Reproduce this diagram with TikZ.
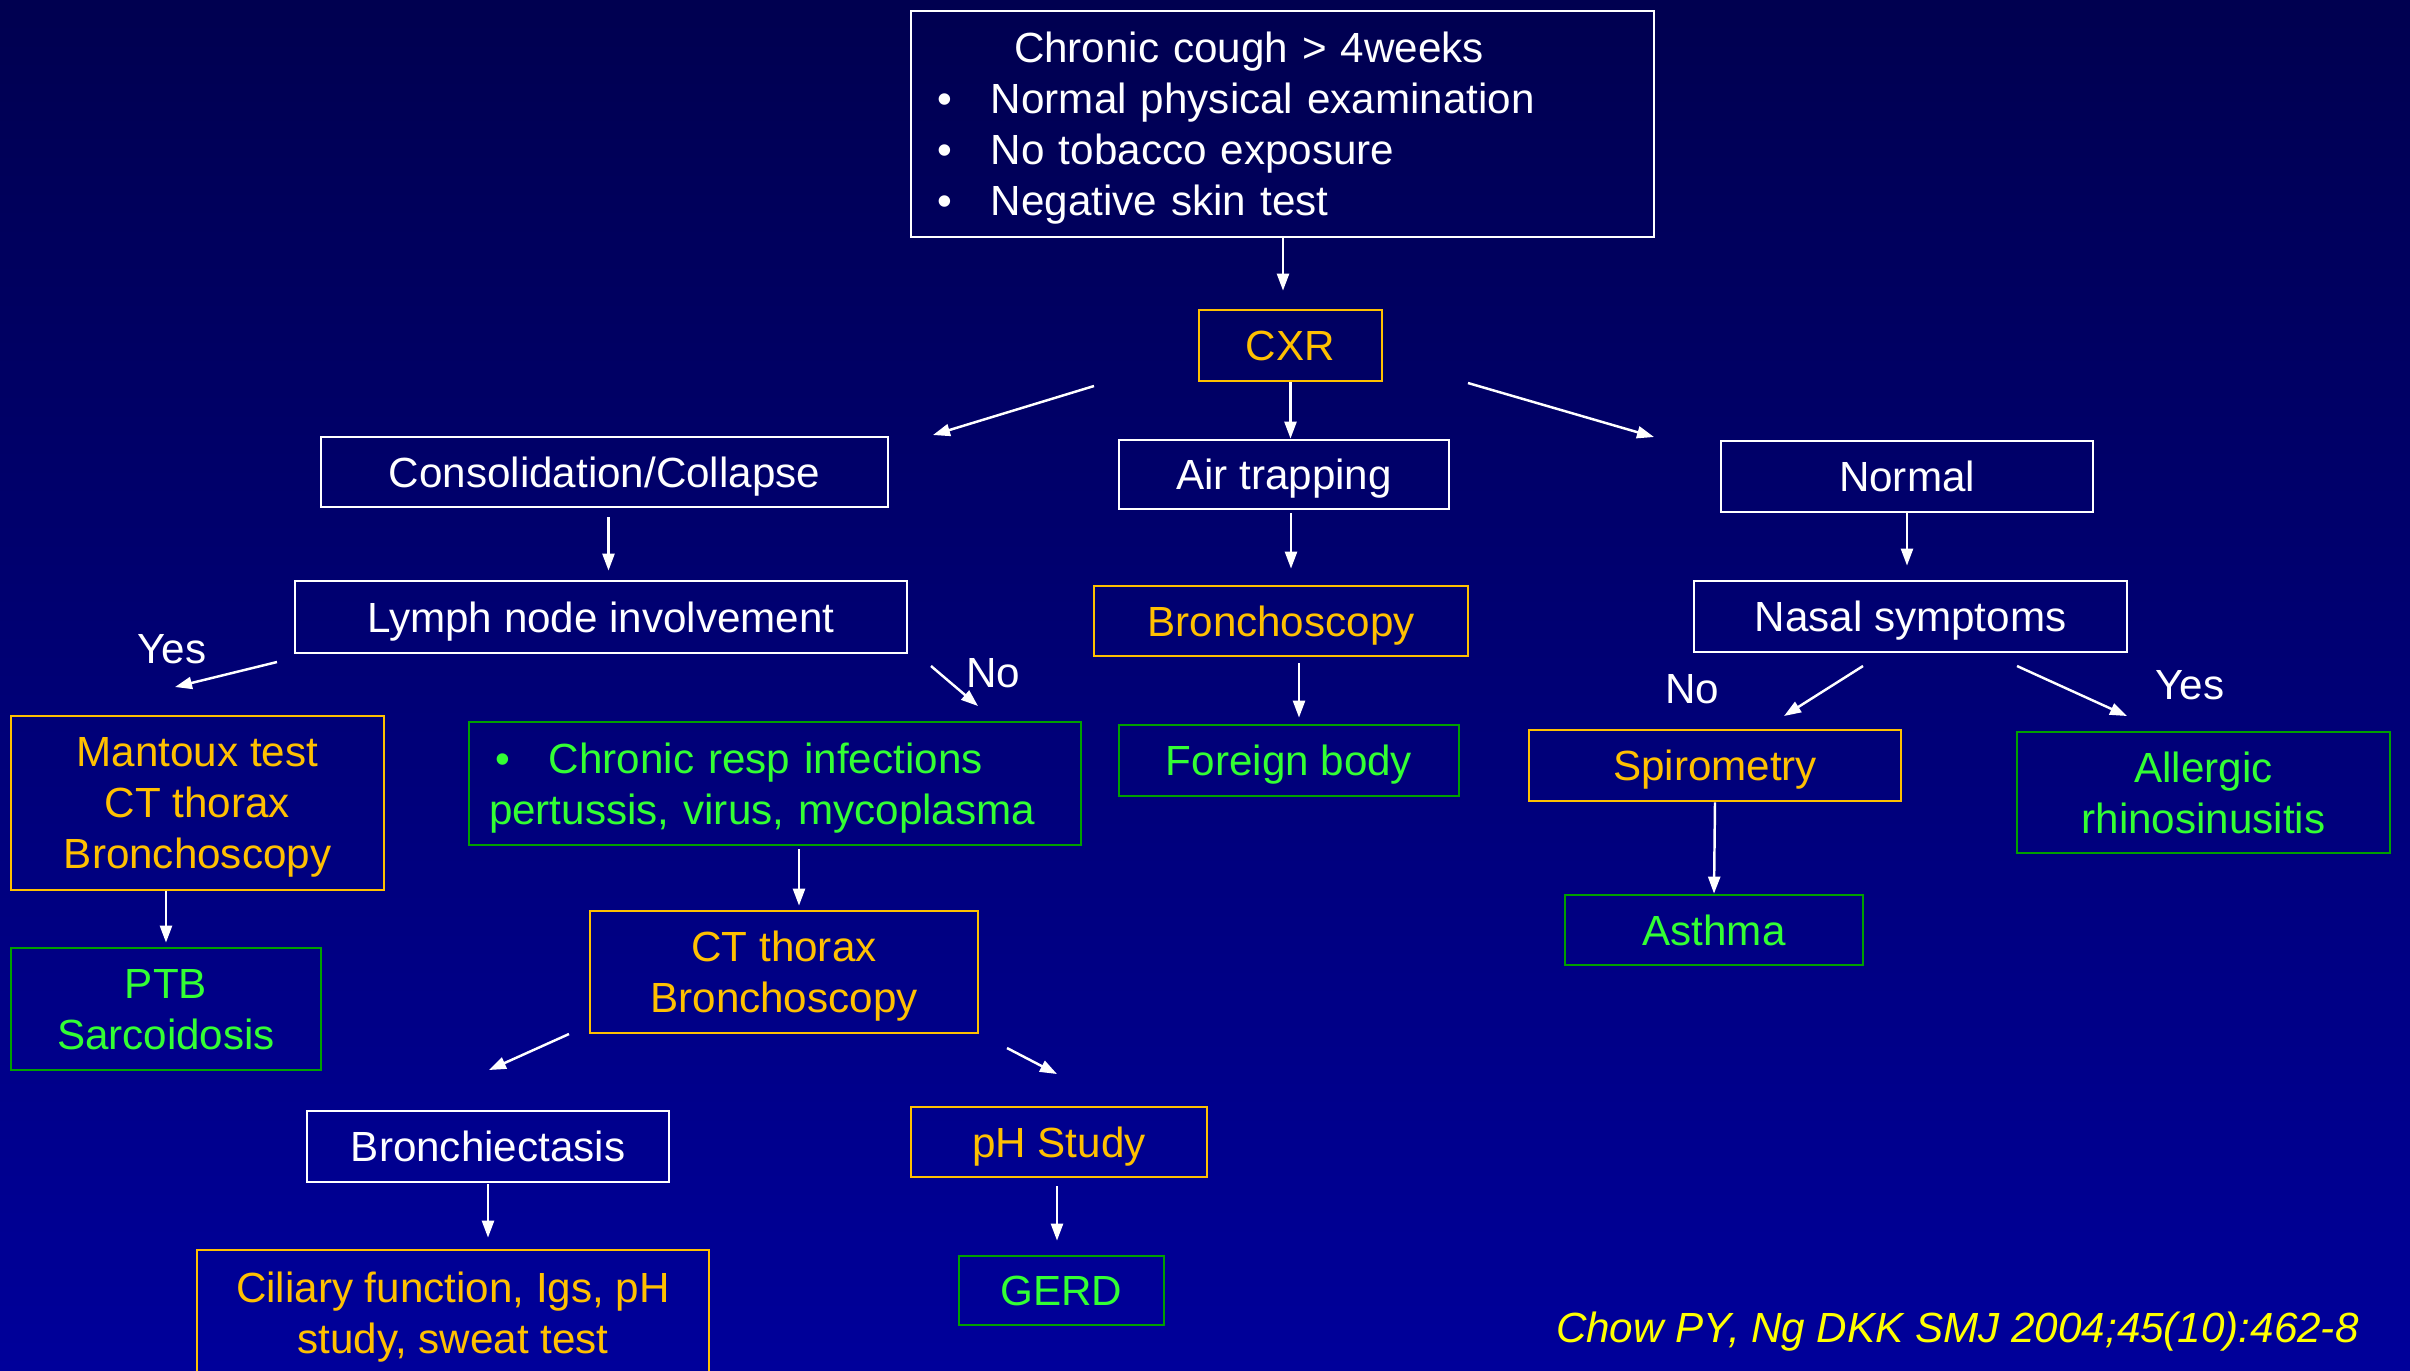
\documentclass[tikz,border=0pt]{standalone}
\usepackage{fontspec}
\setmainfont{Liberation Sans}
\usepackage{tikz}
\usetikzlibrary{arrows.meta}
\definecolor{bgtop}{RGB}{0,0,80}
\definecolor{bgbottom}{RGB}{0,0,154}
\definecolor{testorange}{RGB}{255,192,0}
\definecolor{dxgreen}{RGB}{51,255,51}
\definecolor{dxline}{RGB}{0,160,0}
\definecolor{citeyellow}{RGB}{255,255,0}
\tikzset{
    box/.style={
            draw=white, text=white, line width=0.8pt,
            inner sep=0pt, align=center, text depth=0pt
        },
    testbox/.style={box, draw=testorange, text=testorange},
    dxbox/.style={box, draw=dxline, text=dxgreen},
    flow/.style={
            white, line width=0.7pt,
            -{Triangle[length=0.17cm, width=0.12cm]}
        },
    answer/.style={text=white}
}

\begin{document}
\begin{tikzpicture}[font=\fontsize{12pt}{14.5pt}\selectfont]
        \useasboundingbox (0,0) rectangle (24.10,-13.70);
        \clip (0,0) rectangle (24.10,-13.70);
        \fill[top color=bgtop, bottom color=bgbottom] (0,0) rectangle (24.10,-13.70);

        \node[box, minimum width=7.43cm, minimum height=2.26cm, text width=6.91cm, inner xsep=0.26cm, align=left, text depth=43.5pt] (cough) at (12.825,-1.24)
        {\hspace*{0.77cm}Chronic cough > 4weeks\\
            \makebox[0.54cm][l]{\textbullet}Normal physical examination\\
            \makebox[0.54cm][l]{\textbullet}No tobacco exposure\\
            \makebox[0.54cm][l]{\textbullet}Negative skin test};
        \node[testbox, minimum width=1.83cm, minimum height=0.71cm] (cxr) at (12.905,-3.455) {CXR};

        \node[box, minimum width=5.67cm, minimum height=0.70cm] (consol) at (6.045,-4.72) {Consolidation/Collapse};
        \node[box, minimum width=3.30cm, minimum height=0.69cm] (air) at (12.84,-4.745) {Air trapping};
        \node[box, minimum width=3.72cm, minimum height=0.71cm] (normal) at (19.07,-4.765) {Normal};

        \node[box, minimum width=6.12cm, minimum height=0.72cm] (lymph) at (6.01,-6.17) {Lymph node involvement};
        \node[testbox, minimum width=3.74cm, minimum height=0.70cm] (bronch) at (12.81,-6.21) {Bronchoscopy};
        \node[box, minimum width=4.33cm, minimum height=0.71cm] (nasal) at (19.105,-6.165) {Nasal symptoms};

        \node[testbox, minimum width=3.73cm, minimum height=1.74cm] (mantoux) at (1.975,-8.03) {Mantoux test\\CT thorax\\Bronchoscopy};
        \node[dxbox, minimum width=6.12cm, minimum height=1.23cm, text width=5.72cm, inner xsep=0.2cm, align=left, text depth=14.5pt] (infect) at (7.75,-7.835)
        {\hspace*{0.06cm}\makebox[0.54cm][l]{\textbullet}Chronic resp infections\\
            pertussis, virus, mycoplasma};
        \node[dxbox, minimum width=3.40cm, minimum height=0.71cm] (foreign) at (12.89,-7.605) {Foreign body};
        \node[testbox, minimum width=3.72cm, minimum height=0.71cm] (spiro) at (17.15,-7.655) {Spirometry};
        \node[dxbox, minimum width=3.73cm, minimum height=1.21cm] (allergic) at (22.035,-7.925) {Allergic\\rhinosinusitis};

        \node[dxbox, minimum width=2.98cm, minimum height=0.70cm] (asthma) at (17.14,-9.30) {Asthma};
        \node[dxbox, minimum width=3.10cm, minimum height=1.22cm] (ptb) at (1.66,-10.09) {PTB\\Sarcoidosis};
        \node[testbox, minimum width=3.88cm, minimum height=1.22cm] (ctb) at (7.84,-9.72) {CT thorax\\Bronchoscopy};

        \node[box, minimum width=3.62cm, minimum height=0.71cm] (bronchiect) at (4.88,-11.465) {Bronchiectasis};
        \node[testbox, minimum width=2.96cm, minimum height=0.70cm] (ph) at (10.59,-11.42) {pH Study};
        \node[testbox, minimum width=5.12cm, minimum height=1.25cm] (ciliary) at (4.53,-13.125) {Ciliary function, Igs, pH\\study, sweat test};
        \node[dxbox, minimum width=2.05cm, minimum height=0.69cm] (gerd) at (10.615,-12.905) {GERD};

        \node[answer] (yesL) at (1.72,-6.49) {Yes};
        \node[answer] (noL) at (9.93,-6.73) {No};
        \node[answer] (noR) at (16.92,-6.89) {No};
        \node[answer] (yesR) at (21.90,-6.85) {Yes};

        \node[anchor=east, text=citeyellow, font=\fontsize{12pt}{14.5pt}\selectfont\itshape] (cite) at (23.71,-13.32)
        {Chow PY, Ng DKK SMJ 2004;45(10):462-8};

        \coordinate (cxrL1) at (10.94,-3.86);
        \coordinate (cxrL2) at (9.33,-4.35);
        \coordinate (cxrR1) at (14.68,-3.83);
        \coordinate (cxrR2) at (16.54,-4.37);
        \coordinate (yes1) at (2.77,-6.62);
        \coordinate (yes2) at (1.75,-6.87);
        \coordinate (no1) at (9.31,-6.66);
        \coordinate (no2) at (9.78,-7.06);
        \coordinate (nasalL1) at (18.63,-6.66);
        \coordinate (nasalL2) at (17.84,-7.16);
        \coordinate (nasalR1) at (20.17,-6.66);
        \coordinate (nasalR2) at (21.27,-7.16);
        \coordinate (ctbL1) at (5.69,-10.34);
        \coordinate (ctbL2) at (4.89,-10.70);
        \coordinate (ctbR1) at (10.07,-10.48);
        \coordinate (ctbR2) at (10.57,-10.74);

        \draw[flow, shorten >=0.18cm] ([xshift=0.005cm]cough.south) -- ([xshift=0.005cm]cough.south |- cxr.north);
        \draw[flow] (cxrL1) -- (cxrL2);
        \draw[flow] (cxr.south) -- (cxr.south |- air.north);
        \draw[flow] (cxrR1) -- (cxrR2);

        \draw[flow, shorten <=0.09cm, shorten >=0.09cm] ([xshift=0.04cm]consol.south) -- ([xshift=0.04cm]consol.south |- lymph.north);
        \draw[flow, shorten <=0.03cm, shorten >=0.16cm] ([xshift=0.07cm]air.south) -- ([xshift=0.07cm]air.south |- bronch.north);
        \draw[flow, shorten >=0.14cm] (normal.south) -- (normal.south |- nasal.north);

        \draw[flow] (yes1) -- (yes2);
        \draw[flow] (no1) -- (no2);
        \draw[flow, shorten <=0.06cm, shorten >=0.06cm] ([xshift=0.1cm]foreign.north |- bronch.south) -- ([xshift=0.1cm]foreign.north);
        \draw[flow] (nasalL1) -- (nasalL2);
        \draw[flow] (nasalR1) -- (nasalR2);
        \draw[flow] (spiro.south) -- (asthma.north);

        \draw[flow, shorten >=0.04cm] (ptb.north |- mantoux.south) -- (ptb.north);
        \draw[flow, shorten <=0.03cm, shorten >=0.04cm] ([xshift=0.15cm]ctb.north |- infect.south) -- ([xshift=0.15cm]ctb.north);
        \draw[flow] (ctbL1) -- (ctbL2);
        \draw[flow] (ctbR1) -- (ctbR2);
        \draw[flow, shorten <=0.01cm, shorten >=0.11cm] (bronchiect.south) -- (bronchiect.south |- ciliary.north);
        \draw[flow, shorten <=0.08cm, shorten >=0.14cm] ([xshift=-0.02cm]ph.south) -- ([xshift=-0.02cm]ph.south |- gerd.north);

    \end{tikzpicture}
\end{document}
